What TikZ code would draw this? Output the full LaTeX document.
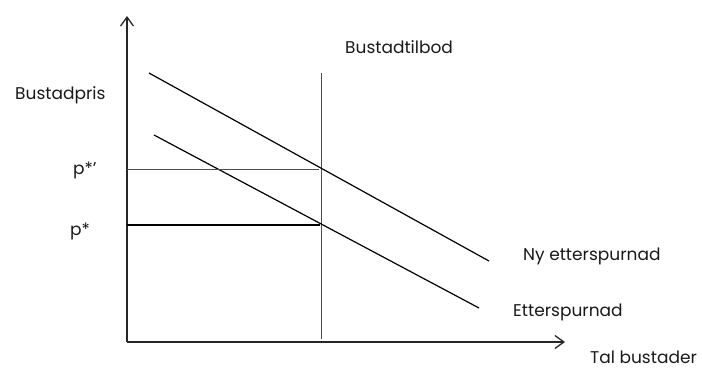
\documentclass[tikz,border=0pt]{standalone}
\usepackage{fontspec}
\setmainfont{Poppins}
\usetikzlibrary{arrows.meta}
\begin{document}
\begin{tikzpicture}[x=1pt,y=-1pt,
  axis/.style={line width=1.6pt,color=black!85,-{Straight Barb[length=9pt,width=13pt,line width=1.3pt]}},
  demand/.style={line width=1.2pt,color=black},
  supply/.style={line width=0.9pt,color=black!70},
  guide/.style={line width=0.9pt,color=black!70},
  guidebold/.style={line width=1.8pt,color=black},
  lbl/.style={font=\fontsize{17}{20}\selectfont,text=black!90,inner sep=0pt}]
\useasboundingbox (0,0) rectangle (702,368);
% axes
\coordinate (O) at (127,342);
\coordinate (Ytop) at (127,16);
\coordinate (Xend) at (565,342);
\draw[axis] (O) -- (Ytop);
\draw[axis] (O) -- (Xend);
% supply
\coordinate (S1) at (321,73);
\coordinate (S2) at (321,339);
\draw[supply] (S1) -- (S2);
% demand curves
\coordinate (N1) at (149,73);
\coordinate (N2) at (489,261);
\coordinate (E1) at (154,135);
\coordinate (E2) at (479,308);
\draw[demand] (N1) -- (N2);
\draw[demand] (E1) -- (E2);
% price lines
\coordinate (P1a) at (127,169);
\coordinate (P1b) at (319,169);
\coordinate (P0a) at (127,225);
\coordinate (P0b) at (320,225);
\draw[guide] (P1a) -- (P1b);
\draw[guidebold] (P0a) -- (P0b);
% labels
\node[lbl,anchor=west] (lpris) at (15,95) {Bustadpris};
\node[lbl,anchor=west] (lp1) at (73,170) {p*’};
\node[lbl,anchor=west] (lp0) at (70,231) {p*};
\node[lbl,anchor=west] (ltilbod) at (345,47) {Bustadtilbod};
\node[lbl,anchor=west] (lny) at (523,256) {Ny etterspurnad};
\node[lbl,anchor=west] (lett) at (513,312) {Etterspurnad};
\node[lbl,anchor=west] (ltal) at (590,357) {Tal bustader};
\end{tikzpicture}
\end{document}
